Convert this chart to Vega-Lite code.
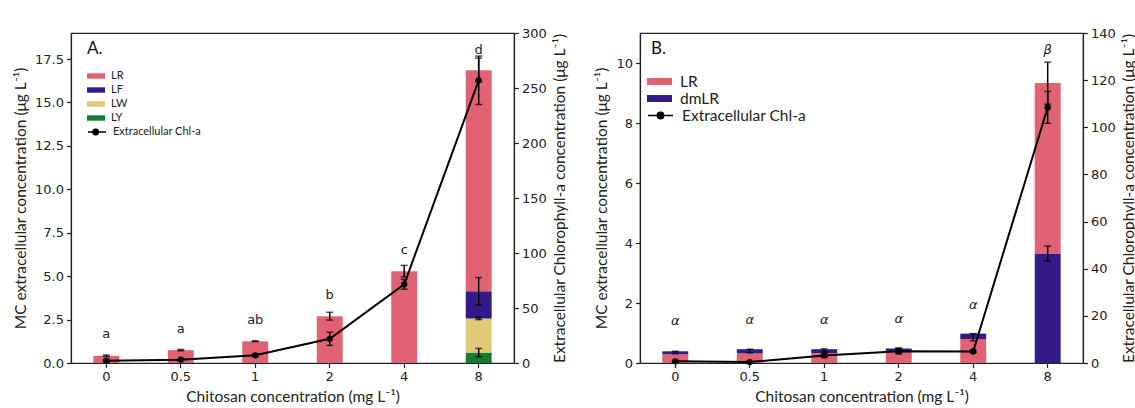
{
  "$schema": "https://vega.github.io/schema/vega-lite/v6.json",
  "background": "white",
  "padding": {"left": 12, "top": 26, "right": 5, "bottom": 5},
  "spacing": 25,
  "resolve": {"scale": {"color": "independent", "stroke": "independent"}, "legend": {"color": "independent", "stroke": "independent"}},
  "config": {
    "view": {"stroke": "#222222", "strokeWidth": 1.2},
    "font": "Lato",
    "axis": {
      "grid": false, "domainColor": "#222222", "tickColor": "#222222", "labelColor": "#222222", "titleColor": "#222222",
      "labelFont": "DejaVu Sans", "labelFontSize": 13, "titleFont": "Lato", "titleFontSize": 15.5, "titleFontWeight": "normal",
      "tickSize": 4.5, "domainWidth": 1.2, "tickWidth": 1.2, "labelPadding": 3
    },
    "legend": {"labelFont": "Lato", "labelColor": "#222222", "titleFont": "Lato", "titleFontWeight": "normal", "titleColor": "#111111"}
  },
  "datasets": {
    "barsA": [
      {"conc": "0", "comp": "LR", "value": 0.41, "rank": 4},
      {"conc": "0.5", "comp": "LR", "value": 0.74, "rank": 4},
      {"conc": "1", "comp": "LR", "value": 1.25, "rank": 4},
      {"conc": "2", "comp": "LR", "value": 2.69, "rank": 4},
      {"conc": "4", "comp": "LR", "value": 5.28, "rank": 4},
      {"conc": "8", "comp": "LY", "value": 0.6, "rank": 1},
      {"conc": "8", "comp": "LW", "value": 1.96, "rank": 2},
      {"conc": "8", "comp": "LF", "value": 1.57, "rank": 3},
      {"conc": "8", "comp": "LR", "value": 12.73, "rank": 4}
    ],
    "errA": [
      {"conc": "0", "lo": 0.37, "hi": 0.46},
      {"conc": "0.5", "lo": 0.71, "hi": 0.78},
      {"conc": "1", "lo": 1.23, "hi": 1.28},
      {"conc": "2", "lo": 2.47, "hi": 2.92},
      {"conc": "4", "lo": 4.95, "hi": 5.62},
      {"conc": "8", "lo": 0.36, "hi": 0.84},
      {"conc": "8", "lo": 2.5, "hi": 2.62},
      {"conc": "8", "lo": 3.34, "hi": 4.92},
      {"conc": "8", "lo": 16.2, "hi": 17.55}
    ],
    "chlA": [
      {"conc": "0", "chl": 2, "lo": 1, "hi": 3},
      {"conc": "0.5", "chl": 3, "lo": 2, "hi": 4},
      {"conc": "1", "chl": 7, "lo": 5.8, "hi": 8.2},
      {"conc": "2", "chl": 22, "lo": 16, "hi": 28},
      {"conc": "4", "chl": 71.5, "lo": 67, "hi": 76},
      {"conc": "8", "chl": 257, "lo": 235, "hi": 279}
    ],
    "lettersA": [
      {"conc": "0", "label": "a", "pos": 1.65},
      {"conc": "0.5", "label": "a", "pos": 1.95},
      {"conc": "1", "label": "ab", "pos": 2.45},
      {"conc": "2", "label": "b", "pos": 3.9},
      {"conc": "4", "label": "c", "pos": 6.5},
      {"conc": "8", "label": "d", "pos": 18.05}
    ],
    "barsB": [
      {"conc": "0", "comp": "LR", "value": 0.29, "rank": 1},
      {"conc": "0", "comp": "dmLR", "value": 0.1, "rank": 2},
      {"conc": "0.5", "comp": "LR", "value": 0.32, "rank": 1},
      {"conc": "0.5", "comp": "dmLR", "value": 0.14, "rank": 2},
      {"conc": "1", "comp": "LR", "value": 0.33, "rank": 1},
      {"conc": "1", "comp": "dmLR", "value": 0.13, "rank": 2},
      {"conc": "2", "comp": "LR", "value": 0.36, "rank": 1},
      {"conc": "2", "comp": "dmLR", "value": 0.12, "rank": 2},
      {"conc": "4", "comp": "LR", "value": 0.8, "rank": 1},
      {"conc": "4", "comp": "dmLR", "value": 0.18, "rank": 2},
      {"conc": "8", "comp": "dmLR", "value": 3.65, "rank": 1},
      {"conc": "8", "comp": "LR", "value": 5.68, "rank": 2}
    ],
    "errB": [
      {"conc": "0", "lo": 0.31, "hi": 0.39},
      {"conc": "0.5", "lo": 0.34, "hi": 0.46},
      {"conc": "1", "lo": 0.38, "hi": 0.47},
      {"conc": "2", "lo": 0.35, "hi": 0.5},
      {"conc": "4", "lo": 0.74, "hi": 0.98},
      {"conc": "8", "lo": 3.41, "hi": 3.9},
      {"conc": "8", "lo": 8.63, "hi": 10.03}
    ],
    "chlB": [
      {"conc": "0", "chl": 0.7, "lo": 0.4, "hi": 1.0},
      {"conc": "0.5", "chl": 0.4, "lo": 0.1, "hi": 0.7},
      {"conc": "1", "chl": 3.2, "lo": 2.4, "hi": 4.0},
      {"conc": "2", "chl": 5.0, "lo": 3.8, "hi": 6.2},
      {"conc": "4", "chl": 4.9, "lo": 4.4, "hi": 5.4},
      {"conc": "8", "chl": 108.4, "lo": 101.7, "hi": 115.2}
    ],
    "lettersB": [
      {"conc": "0", "label": "α", "pos": 1.4},
      {"conc": "0.5", "label": "α", "pos": 1.42},
      {"conc": "1", "label": "α", "pos": 1.42},
      {"conc": "2", "label": "α", "pos": 1.46},
      {"conc": "4", "label": "α", "pos": 1.93},
      {"conc": "8", "label": "β", "pos": 10.45}
    ]
  },
  "hconcat": [
    {
      "width": 443,
      "height": 330,
      "encoding": {
        "x": {"field": "conc", "type": "ordinal", "sort": ["0", "0.5", "1", "2", "4", "8"],
          "scale": {"domain": ["0", "0.5", "1", "2", "4", "8"], "paddingInner": 0.652, "paddingOuter": 0.3},
          "axis": {"title": "Chitosan concentration (mg L⁻¹)", "labelAngle": 0, "titlePadding": 6}}
      },
      "layer": [
        {
          "layer": [
            {
              "data": {"name": "barsA"},
              "mark": {"type": "bar"},
              "encoding": {
                "y": {"field": "value", "type": "quantitative", "stack": "zero", "scale": {"domain": [0, 19], "nice": false},
                  "axis": {"title": "MC extracellular concentration (μg L⁻¹)", "values": [0, 2.5, 5, 7.5, 10, 12.5, 15, 17.5], "format": ".1f", "titlePadding": 6}},
                "color": {"field": "comp", "type": "nominal",
                  "scale": {"domain": ["LR", "LF", "LW", "LY"], "range": ["#e16373", "#341a88", "#e2c978", "#167c32"]},
                  "legend": {"title": "A.", "titleFontSize": 17, "titlePadding": 9, "orient": "none", "legendX": 16, "legendY": 8,
                    "symbolType": "M-1,-0.3H1V0.3H-1Z", "symbolSize": 324, "labelFontSize": 11, "labelOffset": 6, "rowPadding": 0, "symbolStrokeWidth": 0}},
                "order": {"field": "rank", "type": "quantitative"}
              }
            },
            {
              "data": {"name": "errA"},
              "mark": {"type": "errorbar", "ticks": true, "color": "black", "thickness": 1.5, "size": 7},
              "encoding": {
                "y": {"field": "lo", "type": "quantitative", "scale": {"domain": [0, 19], "nice": false}, "title": "MC extracellular concentration (μg L⁻¹)"},
                "y2": {"field": "hi"}
              }
            },
            {
              "data": {"name": "lettersA"},
              "mark": {"type": "text", "font": "DejaVu Sans", "fontSize": 13, "color": "#222222", "baseline": "middle"},
              "encoding": {
                "y": {"field": "pos", "type": "quantitative", "scale": {"domain": [0, 19], "nice": false}, "title": "MC extracellular concentration (μg L⁻¹)"},
                "text": {"field": "label"}
              }
            }
          ]
        },
        {
          "data": {"name": "chlA"},
          "layer": [
            {
              "mark": {"type": "line", "strokeWidth": 2},
              "encoding": {
                "y": {"field": "chl", "type": "quantitative", "scale": {"domain": [0, 300], "nice": false},
                  "axis": {"orient": "right", "title": "Extracellular Chlorophyll-a concentration (μg L⁻¹)", "titleAngle": 270, "titleBaseline": "top", "values": [0, 50, 100, 150, 200, 250, 300], "titlePadding": 6}},
                "stroke": {"datum": "Extracellular Chl-a", "type": "nominal", "scale": {"range": ["black"]},
                  "legend": {"title": null, "orient": "none", "legendX": 16, "legendY": 89, "symbolType": "M-1,0H1M-0.45,0A0.3,0.3 0 1 1 0.15,0A0.3,0.3 0 1 1 -0.45,0", "symbolSize": 324,
                    "symbolFillColor": "black", "symbolStrokeColor": "black", "symbolStrokeWidth": 1.5, "labelFontSize": 11, "labelOffset": 6}}
              }
            },
            {
              "mark": {"type": "errorbar", "ticks": true, "color": "black", "thickness": 1.5, "size": 7},
              "encoding": {
                "y": {"field": "lo", "type": "quantitative", "scale": {"domain": [0, 300], "nice": false}, "title": "Extracellular Chlorophyll-a concentration (μg L⁻¹)"},
                "y2": {"field": "hi"}
              }
            },
            {
              "mark": {"type": "point", "filled": true, "color": "black", "size": 40, "opacity": 1},
              "encoding": {
                "y": {"field": "chl", "type": "quantitative", "scale": {"domain": [0, 300], "nice": false}, "title": "Extracellular Chlorophyll-a concentration (μg L⁻¹)"}
              }
            }
          ]
        }
      ],
      "resolve": {"scale": {"y": "independent"}}
    },
    {
      "width": 443,
      "height": 330,
      "encoding": {
        "x": {"field": "conc", "type": "ordinal", "sort": ["0", "0.5", "1", "2", "4", "8"],
          "scale": {"domain": ["0", "0.5", "1", "2", "4", "8"], "paddingInner": 0.652, "paddingOuter": 0.3},
          "axis": {"title": "Chitosan concentration (mg L⁻¹)", "labelAngle": 0, "titlePadding": 6}}
      },
      "layer": [
        {
          "layer": [
            {
              "data": {"name": "barsB"},
              "mark": {"type": "bar"},
              "encoding": {
                "y": {"field": "value", "type": "quantitative", "stack": "zero", "scale": {"domain": [0, 11], "nice": false},
                  "axis": {"title": "MC extracellular concentration (μg L⁻¹)", "values": [0, 2, 4, 6, 8, 10], "titlePadding": 6}},
                "color": {"field": "comp", "type": "nominal",
                  "scale": {"domain": ["LR", "dmLR"], "range": ["#e16373", "#341a88"]},
                  "legend": {"title": "B.", "titleFontSize": 17, "titlePadding": 15, "orient": "none", "legendX": 11, "legendY": 8,
                    "symbolType": "M-1.47,-0.41H1.47V0.41H-1.47Z", "symbolSize": 289, "labelFontSize": 15.5, "labelOffset": 12, "rowPadding": 0, "symbolStrokeWidth": 0}},
                "order": {"field": "rank", "type": "quantitative"}
              }
            },
            {
              "data": {"name": "errB"},
              "mark": {"type": "errorbar", "ticks": true, "color": "black", "thickness": 1.5, "size": 7},
              "encoding": {
                "y": {"field": "lo", "type": "quantitative", "scale": {"domain": [0, 11], "nice": false}, "title": "MC extracellular concentration (μg L⁻¹)"},
                "y2": {"field": "hi"}
              }
            },
            {
              "data": {"name": "lettersB"},
              "mark": {"type": "text", "font": "DejaVu Sans", "fontSize": 13, "fontStyle": "italic", "color": "#222222", "baseline": "middle"},
              "encoding": {
                "y": {"field": "pos", "type": "quantitative", "scale": {"domain": [0, 11], "nice": false}, "title": "MC extracellular concentration (μg L⁻¹)"},
                "text": {"field": "label"}
              }
            }
          ]
        },
        {
          "data": {"name": "chlB"},
          "layer": [
            {
              "mark": {"type": "line", "strokeWidth": 2},
              "encoding": {
                "y": {"field": "chl", "type": "quantitative", "scale": {"domain": [0, 140], "nice": false},
                  "axis": {"orient": "right", "title": "Extracellular Chlorophyll-a concentration (μg L⁻¹)", "titleAngle": 270, "titleBaseline": "top", "values": [0, 20, 40, 60, 80, 100, 120, 140], "titlePadding": 6}},
                "stroke": {"datum": "Extracellular Chl-a", "type": "nominal", "scale": {"range": ["black"]},
                  "legend": {"title": null, "orient": "none", "legendX": 11, "legendY": 73, "symbolType": "M-1.47,0H1.47M-0.38,0A0.38,0.38 0 1 1 0.38,0A0.38,0.38 0 1 1 -0.38,0", "symbolSize": 289,
                    "symbolFillColor": "black", "symbolStrokeColor": "black", "symbolStrokeWidth": 1.5, "labelFontSize": 15.5, "labelOffset": 12}}
              }
            },
            {
              "mark": {"type": "errorbar", "ticks": true, "color": "black", "thickness": 1.5, "size": 7},
              "encoding": {
                "y": {"field": "lo", "type": "quantitative", "scale": {"domain": [0, 140], "nice": false}, "title": "Extracellular Chlorophyll-a concentration (μg L⁻¹)"},
                "y2": {"field": "hi"}
              }
            },
            {
              "mark": {"type": "point", "filled": true, "color": "black", "size": 40, "opacity": 1},
              "encoding": {
                "y": {"field": "chl", "type": "quantitative", "scale": {"domain": [0, 140], "nice": false}, "title": "Extracellular Chlorophyll-a concentration (μg L⁻¹)"}
              }
            }
          ]
        }
      ],
      "resolve": {"scale": {"y": "independent"}}
    }
  ]
}
